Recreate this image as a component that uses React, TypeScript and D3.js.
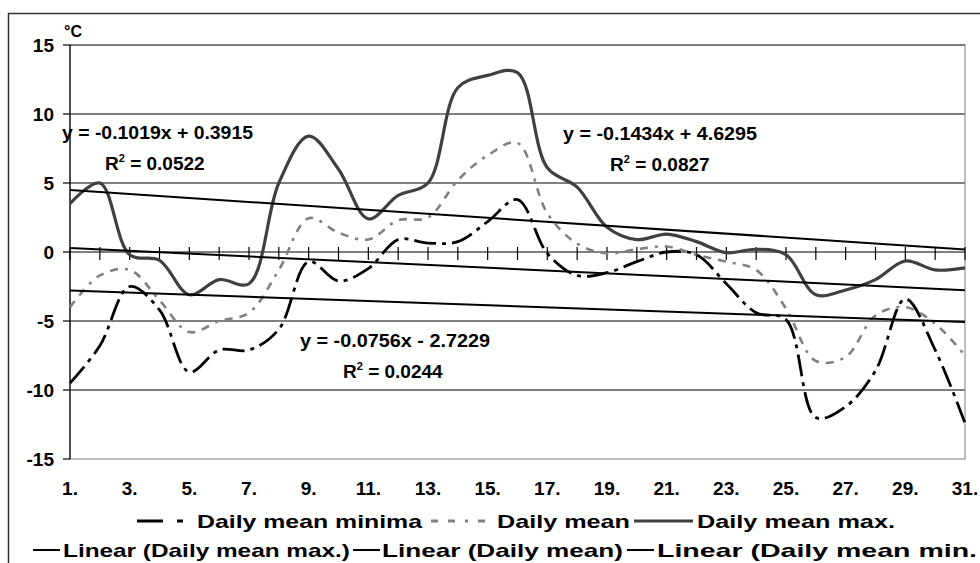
import React from "react";
import * as d3 from "d3";

// day of month (x categories)
const days = [
  1, 2, 3, 4, 5, 6, 7, 8, 9, 10, 11, 12, 13, 14, 15, 16, 17, 18, 19, 20, 21,
  22, 23, 24, 25, 26, 27, 28, 29, 30, 31,
];
const yTicks = [-15, -10, -5, 0, 5, 10, 15];

// series values, °C
const maxTemp = [
  3.5, 5.0, -0.2, -0.6, -3.1, -2.0, -2.3, 5.0, 8.4, 6.0, 2.4, 4.1, 5.0, 11.9,
  12.8, 13.0, 6.1, 4.7, 1.8, 0.9, 1.3, 0.75, -0.05, 0.2, -0.2, -3.1, -2.75,
  -2.0, -0.65, -1.3, -1.15,
];
const meanTemp = [
  -4.0, -1.7, -1.3, -3.5, -5.8, -5.0, -4.4, -1.3, 2.45, 1.4, 0.9, 2.3, 2.5, 5.2,
  7.0, 7.9, 2.8, 0.6, -0.1, 0.2, 0.4, -0.2, -0.7, -1.3, -4.1, -7.9, -7.6, -4.6,
  -4.0, -5.2, -7.5,
];
const minTemp = [
  -9.5, -6.8, -2.5, -4.2, -8.7, -7.1, -7.1, -5.6, -0.7, -2.1, -1.2, 0.9, 0.65,
  0.75, 2.2, 3.8, -0.1, -1.7, -1.5, -0.7, 0.0, -0.2, -2.3, -4.4, -4.9, -12.0,
  -11.2, -8.6, -3.4, -7.1, -12.4,
];

// linear trends: max, mean, min
const trendSlope = [-0.1434, -0.1019, -0.0756];
const trendIntercept = [4.6295, 0.3915, -2.7229];
const trendEquation = [
  "y = -0.1434x + 4.6295",
  "y = -0.1019x + 0.3915",
  "y = -0.0756x - 2.7229",
];
const trendR2 = ["0.0827", "0.0522", "0.0244"];

const font = "'Liberation Sans', Arial, sans-serif";

export default function App() {
  const width = 980;
  const height = 563;
  const plot = { left: 70, right: 965, top: 45, bottom: 459 };

  const x = d3.scaleLinear().domain([1, 31]).range([plot.left, plot.right]);
  const y = d3.scaleLinear().domain([-15, 15]).range([plot.bottom, plot.top]);

  const smooth = d3
    .line<number>()
    .x((_, i) => x(days[i]))
    .y((d) => y(d))
    .curve(d3.curveCatmullRom.alpha(0.5));

  const trendPath = (k: number) =>
    d3
      .line<number>()
      .x((d) => x(d))
      .y((d) => y(trendSlope[k] * d + trendIntercept[k]))([1, 31]);

  const maxStyle = { stroke: "#404040", strokeWidth: 3.2, dash: undefined };
  const meanStyle = { stroke: "#808080", strokeWidth: 2.6, dash: "8,7,8,7,3,7" };
  const minStyle = { stroke: "#000", strokeWidth: 2.8, dash: "22,6,4,6" };

  // equation label spots: [x, baseline, r2 x, r2 baseline, textLength]
  const eqPos = [
    [563, 140, 610, 171, 194],
    [62, 139, 105, 170, 191],
    [300, 347, 343, 378, 190],
  ];

  const legendText = {
    fontFamily: font,
    fontWeight: 700,
    fontSize: 19,
    fill: "#000",
  } as const;

  return (
    <svg
      width={width}
      height={height}
      style={{ position: "absolute", left: 0, top: 0, background: "#fff" }}
    >
      <rect x={8.5} y={13.5} width={990} height={580} fill="#fff" stroke="#333" strokeWidth={1.5} />

      {/* gridlines */}
      {yTicks
        .filter((t) => t !== 0 && t !== 15 && t !== -15)
        .map((t) => (
          <line key={t} x1={plot.left} x2={plot.right} y1={y(t)} y2={y(t)} stroke="#000" strokeWidth={1} />
        ))}
      <rect
        x={plot.left}
        y={plot.top}
        width={plot.right - plot.left}
        height={plot.bottom - plot.top}
        fill="none"
        stroke="#808080"
        strokeWidth={1}
      />
      <line x1={plot.left} x2={plot.right} y1={y(15)} y2={y(15)} stroke="#333" strokeWidth={1} />

      {/* y axis */}
      <line x1={plot.left} x2={plot.left} y1={plot.top} y2={plot.bottom} stroke="#000" strokeWidth={1.2} />
      {yTicks.map((t) => (
        <g key={t}>
          <line x1={plot.left - 7} x2={plot.left} y1={y(t)} y2={y(t)} stroke="#000" strokeWidth={1.2} />
          <text
            x={54}
            y={y(t)}
            dy="0.36em"
            textAnchor="end"
            fontFamily={font}
            fontWeight={700}
            fontSize={19}
          >
            {t}
          </text>
        </g>
      ))}
      <text x={64} y={37} fontFamily={font} fontWeight={700} fontSize={16}>
        °C
      </text>

      {/* x axis on zero line */}
      <line x1={plot.left} x2={plot.right} y1={y(0)} y2={y(0)} stroke="#000" strokeWidth={1.2} />
      {days.map((d) => (
        <line key={d} x1={x(d)} x2={x(d)} y1={y(0) - 5} y2={y(0) + 8} stroke="#000" strokeWidth={1.2} />
      ))}
      {days
        .filter((d) => d % 2 === 1)
        .map((d) => (
          <text
            key={d}
            x={x(d)}
            y={495}
            textAnchor="middle"
            fontFamily={font}
            fontWeight={700}
            fontSize={19}
          >
            {`${d}.`}
          </text>
        ))}

      {/* series */}
      <path d={smooth(minTemp) ?? ""} fill="none" stroke={minStyle.stroke} strokeWidth={minStyle.strokeWidth} strokeDasharray={minStyle.dash} />
      <path d={smooth(meanTemp) ?? ""} fill="none" stroke={meanStyle.stroke} strokeWidth={meanStyle.strokeWidth} strokeDasharray={meanStyle.dash} />
      <path d={smooth(maxTemp) ?? ""} fill="none" stroke={maxStyle.stroke} strokeWidth={maxStyle.strokeWidth} />

      {/* trend lines */}
      {trendSlope.map((_, k) => (
        <path key={k} d={trendPath(k) ?? ""} fill="none" stroke="#000" strokeWidth={2} />
      ))}

      {/* trend equations */}
      {trendEquation.map((eq, k) => (
        <g key={k} fontFamily={font} fontWeight={700} fontSize={19}>
          <text x={eqPos[k][0]} y={eqPos[k][1]} textLength={eqPos[k][4]} lengthAdjust="spacingAndGlyphs">
            {eq}
          </text>
          <text x={eqPos[k][2]} y={eqPos[k][3]}>
            R
            <tspan dy={-8} fontSize={11}>
              2
            </tspan>
            <tspan dy={8}>{` = ${trendR2[k]}`}</tspan>
          </text>
        </g>
      ))}

      {/* legend row 1 */}
      <line x1={137} x2={163} y1={521} y2={521} stroke="#000" strokeWidth={3} />
      <line x1={177} x2={183} y1={521} y2={521} stroke="#000" strokeWidth={3} />
      <text x={197} y={528} textLength={225} lengthAdjust="spacingAndGlyphs" {...legendText}>
        Daily mean minima
      </text>
      <line x1={431} x2={490} y1={521} y2={521} stroke="#808080" strokeWidth={3} strokeDasharray="7,10,7,10,3,10" />
      <text x={497} y={528} textLength={133} lengthAdjust="spacingAndGlyphs" {...legendText}>
        Daily mean
      </text>
      <line x1={634} x2={693} y1={521} y2={521} stroke="#404040" strokeWidth={3.2} />
      <text x={697} y={528} textLength={198} lengthAdjust="spacingAndGlyphs" {...legendText}>
        Daily mean max.
      </text>

      {/* legend row 2 */}
      <line x1={33} x2={60} y1={550} y2={550} stroke="#000" strokeWidth={2} />
      <text x={63} y={557} textLength={287} lengthAdjust="spacingAndGlyphs" {...legendText}>
        Linear (Daily mean max.)
      </text>
      <line x1={353} x2={380} y1={550} y2={550} stroke="#000" strokeWidth={2} />
      <text x={382} y={557} textLength={241} lengthAdjust="spacingAndGlyphs" {...legendText}>
        Linear (Daily mean)
      </text>
      <line x1={627} x2={654} y1={550} y2={550} stroke="#000" strokeWidth={2} />
      <text x={657} y={557} textLength={320} lengthAdjust="spacingAndGlyphs" {...legendText}>
        Linear (Daily mean min.
      </text>
    </svg>
  );
}
